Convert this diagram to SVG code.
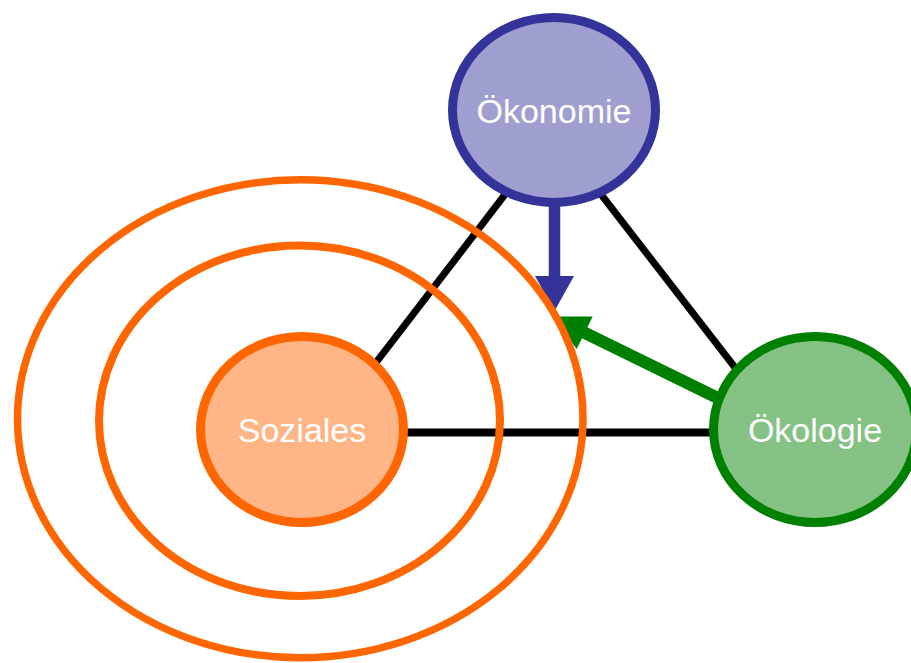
<svg xmlns="http://www.w3.org/2000/svg" width="911" height="663" viewBox="0 0 911 663">
<style>
.lbl{font-family:"Liberation Sans",Arial,sans-serif;font-size:34px;fill:#ffffff;text-anchor:middle}
.edge{stroke:#000000;stroke-width:7;fill:none}
.ring{fill:none;stroke:#FF6600;stroke-width:8}
</style>
<defs>
<pattern id="pOk" width="2" height="2" patternUnits="userSpaceOnUse">
<rect width="2" height="2" fill="#9c9ccf"/><rect width="1" height="1" fill="#a2a2d2"/><rect x="1" y="1" width="1" height="1" fill="#a2a2d2"/>
</pattern>
<pattern id="pSo" width="2" height="2" patternUnits="userSpaceOnUse">
<rect width="2" height="2" fill="#ffb280"/><rect width="1" height="1" fill="#ffb98c"/><rect x="1" y="1" width="1" height="1" fill="#ffb98c"/>
</pattern>
<pattern id="pEc" width="2" height="2" patternUnits="userSpaceOnUse">
<rect width="2" height="2" fill="#80bf80"/><rect width="1" height="1" fill="#89c589"/><rect x="1" y="1" width="1" height="1" fill="#89c589"/>
</pattern>
</defs>
<rect width="911" height="663" fill="#ffffff"/>
<g id="connectors">
<line class="edge" x1="370" y1="370.4" x2="510" y2="188"/>
<line class="edge" x1="598" y1="190.5" x2="740" y2="374"/>
<line class="edge" x1="400" y1="432.5" x2="725" y2="432.5" style="stroke-width:8"/>
<g id="arrow-oekonomie">
<line x1="554.5" y1="195" x2="554.5" y2="277" stroke="#333399" stroke-width="11.5"/>
<polygon points="535,276 574,276 554.5,311" fill="#333399"/>
</g>
<g id="arrow-oekologie">
<line x1="730" y1="404" x2="582" y2="331.5" stroke="#008000" stroke-width="12"/>
<polygon points="592.7,316.5 576.7,349 551.7,316.5" fill="#008000"/>
</g>
</g>
<g id="rings">
<ellipse class="ring" cx="300.25" cy="418.75" rx="282.75" ry="239" style="stroke-width:7.5"/>
<ellipse class="ring" cx="299.5" cy="420.75" rx="200.5" ry="175.25"/>
</g>
<g id="oekonomie">
<ellipse cx="554" cy="110" rx="101.5" ry="92.5" fill="url(#pOk)" stroke="#333399" stroke-width="9"/>
<text class="lbl" x="554" y="122.5">Ökonomie</text>
</g>
<g id="soziales">
<ellipse cx="302" cy="429.5" rx="101.5" ry="93" fill="url(#pSo)" stroke="#FF6600" stroke-width="9"/>
<text class="lbl" x="302" y="441.5">Soziales</text>
</g>
<g id="oekologie">
<ellipse cx="815" cy="429.5" rx="101.5" ry="93" fill="url(#pEc)" stroke="#008000" stroke-width="9"/>
<text class="lbl" x="815" y="441.5">Ökologie</text>
</g>
</svg>
